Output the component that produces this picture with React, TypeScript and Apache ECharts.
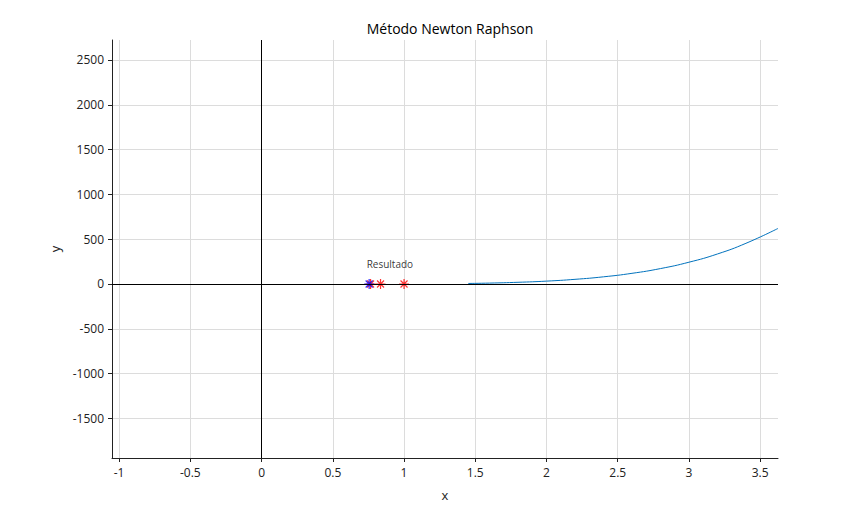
import React, { useRef, useEffect } from 'react';
import * as echarts from 'echarts';

const curveX = [1.45, 1.6, 1.8, 2.0, 2.2, 2.4, 2.6, 2.8, 3.0, 3.2, 3.4, 3.625];
const curveY = [6, 10, 19, 32, 52, 80, 119, 172, 243, 335, 454, 620];
const iterX = [1.0, 0.835, 0.765];
const rootX = 0.755;
const xTicks = [-1, -0.5, 0, 0.5, 1, 1.5, 2, 2.5, 3, 3.5];
const yTicks = [-1500, -1000, -500, 0, 500, 1000, 1500, 2000, 2500];

const star = 'path://M0,-10L0,10M-10,0L10,0M-7,-7L7,7M-7,7L7,-7';

export default function App() {
  const ref = useRef<HTMLDivElement>(null);
  useEffect(() => {
    if (!ref.current) return;
    const chart = echarts.init(ref.current, null, { renderer: 'svg' });
    const font = 'Open Sans';
    chart.setOption({
      animation: false,
      textStyle: { fontFamily: font },
      title: { text: 'Método Newton Raphson', left: 437, top: 8, textAlign: 'center', textStyle: { fontSize: 14, fontWeight: 'normal', color: '#000', fontFamily: font } },
      grid: { left: 104, right: 74, top: 32, bottom: 48 },
      xAxis: {
        type: 'value', min: -1.05, max: 3.625, name: 'x', nameLocation: 'middle', nameGap: 30,
        nameTextStyle: { fontSize: 13, color: '#222' },
        axisLine: { show: true, onZero: false, lineStyle: { color: '#222' } },
        axisTick: { show: true, customValues: xTicks, length: 4, inside: false, lineStyle: { color: '#222' } },
        axisLabel: { customValues: xTicks, color: '#222', fontSize: 12, formatter: (v: number) => String(v) },
        splitLine: { show: true, lineStyle: { color: '#dcdcdc' } },
      },
      yAxis: {
        type: 'value', min: -1942, max: 2723, name: 'y', nameLocation: 'middle', nameGap: 50,
        nameTextStyle: { fontSize: 13, color: '#222' },
        axisLine: { show: true, onZero: false, lineStyle: { color: '#222' } },
        axisTick: { show: true, customValues: yTicks, length: 4, lineStyle: { color: '#222' } },
        axisLabel: { customValues: yTicks, color: '#222', fontSize: 12, formatter: (v: number) => String(v) },
        splitLine: { show: true, lineStyle: { color: '#dcdcdc' } },
      },
      series: [
        {
          type: 'line', data: curveX.map((x, i) => [x, curveY[i]]), showSymbol: false, smooth: true,
          lineStyle: { color: '#0072bd', width: 1 },
          markLine: {
            silent: true, symbol: 'none', label: { show: false },
            lineStyle: { color: '#000', type: 'solid', width: 1 },
            data: [{ xAxis: 0 }, { yAxis: 0 }],
          },
        },
        {
          type: 'scatter', data: iterX.map(x => [x, 0]), symbol: star, symbolSize: 10,
          itemStyle: { color: 'none', borderColor: '#ff0000', borderWidth: 1.2 },
        },
        {
          type: 'scatter', data: [[rootX, 0]], symbol: star, symbolSize: 10,
          itemStyle: { color: 'none', borderColor: '#0000ff', borderWidth: 1.2 },
          label: { show: true, formatter: 'Resultado', position: [5, -17], color: '#000', fontSize: 10, fontFamily: font },
        },
      ],
    });
    return () => chart.dispose();
  }, []);
  return <div ref={ref} style={{ width: 844, height: 498 }} />;
}
